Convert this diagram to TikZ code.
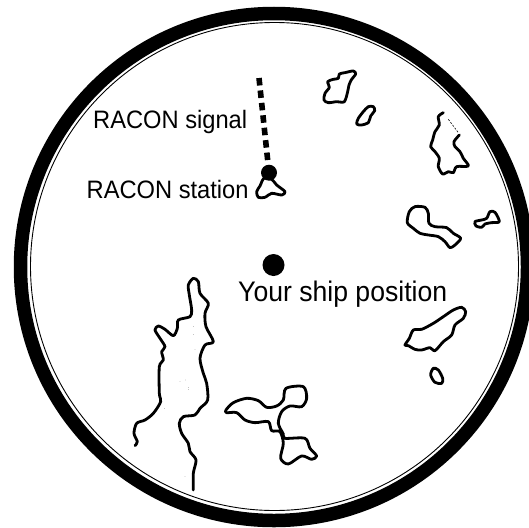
\documentclass[tikz,border=0pt]{standalone}
\usepackage{fontspec}
\setmainfont{Liberation Sans}[FakeStretch=0.94]
\begin{document}
\tikzset{
  island/.style={draw, line width=2.8pt, line join=round, line cap=round},
  spot/.style={circle, fill=black, inner sep=0pt},
  label/.style={anchor=base west, inner sep=0pt, font=\fontsize{25.2}{30}\selectfont},
}
\begin{tikzpicture}[x=1pt, y=-1pt]
  \clip (0,0) rectangle (529,527);
  % radar rim
  \draw[line width=13.5pt] (274,267) circle[radius=253.5];
  \draw[line width=0.9pt] (274.5,266.5) circle[radius=244];

  \node[spot, minimum size=22pt] (shipdot) at (273.5,265) {};
  \node[spot, minimum size=16pt] (stationdot) at (269,172.7) {};
  \coordinate (signalend) at (259,78);
  \draw[line width=5.6pt, dash pattern=on 7.5pt off 5pt] (signalend) -- (stationdot);

  \node[label] (signallabel) at (93,128.3) {RACON signal};
  \node[label] (stationlabel) at (86.5,198) {RACON station};
  \node[label, font=\fontsize{28.3}{32}\selectfont] (shiplabel) at (238,301) {Your ship position};

  % station island
  \begin{scope}[shift={(80,60)}, scale=0.3333]
    \draw[island] plot[smooth cycle, tension=0.5] coordinates {(552,355) (575,358) (590,375) (615,395) (605,405) (575,400) (555,412) (535,412) (530,395) (540,378)};
  \end{scope}

  % upper right group
  \begin{scope}[shift={(300,50)}, scale=0.3333]
    \draw[island] plot[smooth cycle, tension=0.5] coordinates {(118,72) (135,68) (160,63) (167,72) (155,88) (147,105) (143,125) (133,155) (110,155) (85,158) (72,150) (75,130) (88,112) (83,95) (100,88) (115,85)};
    \draw[island] plot[smooth cycle, tension=0.5] coordinates {(205,170) (220,170) (224,182) (212,198) (205,218) (185,225) (170,222) (175,205) (190,185)};
    \draw[island] plot[smooth, tension=0.5] coordinates {(430,188) (415,200) (418,225) (405,245) (398,270) (392,290) (405,305) (418,325) (415,350) (428,372) (445,365) (460,368) (470,350) (505,348) (490,325) (480,305) (465,290) (462,275) (478,255)};
    \draw[line width=0.6pt, dash pattern=on 2pt off 1.5pt] (445,208) -- (475,248);
    \draw[island] plot[smooth cycle, tension=0.5] coordinates {(345,470) (375,472) (385,490) (387,520) (405,530) (440,533) (460,550) (482,565) (465,585) (450,593) (435,575) (415,560) (385,555) (360,550) (340,535) (322,518) (328,485)};
    \draw[island] plot[smooth cycle, tension=0.5] coordinates {(525,515) (545,510) (560,505) (570,485) (585,487) (598,515) (575,518) (555,522) (545,532) (528,528)};
  \end{scope}

  % right side
  \begin{scope}[shift={(380,280)}, scale=0.3333]
    \draw[island] plot[smooth cycle, tension=0.5] coordinates {(100,150) (125,148) (160,130) (190,110) (220,90) (245,82) (257,95) (250,115) (225,135) (215,165) (190,185) (165,212) (150,203) (125,210) (105,208) (85,197) (75,195) (88,175)};
    \draw[island] plot[smooth cycle, tension=0.5] coordinates {(160,265) (175,270) (188,295) (185,310) (165,307) (152,285)};
  \end{scope}

  % big land and trefoil
  \begin{scope}[shift={(120,270)}, scale=0.3333]
    \draw[island] plot[smooth, tension=0.5] coordinates {(45,527) (52,515) (42,490) (50,460) (75,450) (100,430) (122,395) (118,370) (118,290) (130,270) (125,245) (135,230) (120,205) (105,180) (115,168) (135,178) (160,197) (172,175) (175,150) (210,140) (215,120) (208,75) (205,45) (220,25) (235,35) (240,70) (265,100) (255,130) (258,170) (280,215) (255,225) (240,265) (250,310) (260,340) (263,390) (240,415) (225,435) (190,440) (178,460) (185,490) (205,520) (210,545) (228,570) (220,610) (220,660)};
    \draw[island] plot[smooth cycle, tension=0.5] coordinates {(318,420) (340,398) (380,385) (415,392) (440,412) (470,408) (490,390) (498,355) (550,350) (560,385) (545,410) (510,408) (485,425) (475,460) (490,492) (495,505) (555,505) (570,535) (590,558) (575,568) (545,558) (505,582) (482,565) (490,520) (480,485) (455,482) (445,455) (405,458) (375,450) (350,428) (320,428)};
    \foreach \px/\py in {220/170, 220/193, 225/238, 180/335, 197/330, 205/352, 205/358, 133/415, 195/620}
      \fill (\px,\py) circle[radius=0.6pt];
  \end{scope}
\end{tikzpicture}
\end{document}
